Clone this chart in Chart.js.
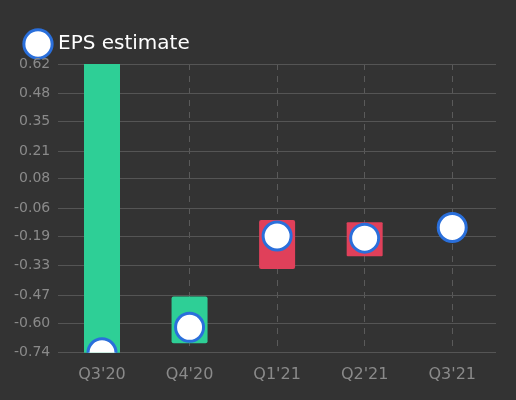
<!DOCTYPE html>
<html><head><meta charset="utf-8">
<script src="https://cdn.jsdelivr.net/npm/chart.js@4"></script>
<style>html,body{margin:0;background:#333333;}#w{width:516px;height:400px;}</style>
</head><body><div id="w"><canvas id="c"></canvas></div>
<script>
const categories = ["Q3'20","Q4'20","Q1'21","Q2'21","Q3'21"];
const estimates = [-0.74, -0.62, -0.19, -0.20, -0.15];
const actuals = [0.62, -0.55, -0.27, -0.21, null];
const yTicks = [0.62,0.48,0.35,0.21,0.08,-0.06,-0.19,-0.33,-0.47,-0.60,-0.74];

const bars = categories.map((c,i)=> actuals[i]==null ? null : [estimates[i], actuals[i]]);
const barColors = categories.map((c,i)=> actuals[i]!=null && actuals[i] >= estimates[i] ? '#2ecf96' : '#e0405a');

new Chart(document.getElementById('c'), {
  type:'bar',
  data: {
    labels: categories,
    datasets: [
      { type:'line', showLine:false, label:'EPS estimate', data: estimates, backgroundColor:'#ffffff', borderColor:'#2a6fdb',
        borderWidth:3, pointRadius:14, pointHoverRadius:14, order:0 },
      { type:'bar', label:'actual', data: bars, backgroundColor: barColors, barThickness:4, inflateAmount:16,
        borderRadius:18, borderSkipped:false, order:1 }
    ]
  },
  options: {
    responsive:true, maintainAspectRatio:false, animation:false,
    layout:{padding:{left:6,right:20,top:12,bottom:4}},
    plugins:{
      legend:{ align:'start', labels:{ filter:(it)=>it.text==='EPS estimate', usePointStyle:true, color:'#ffffff',
        boxHeight:28, font:{size:20, family:'DejaVu Sans'}, padding:22 } },
      tooltip:{enabled:false}
    },
    scales:{
      x:{ offset:true, grid:{ offset:false, color:'#5a5a5a', drawTicks:false }, border:{display:false, dash:[6,6]},
          ticks:{ color:'#8a8a8a', font:{size:16, family:'DejaVu Sans'}, padding:12 } },
      y:{ min:-0.74, max:0.62, afterBuildTicks:(ax)=>{ ax.ticks = yTicks.map(v=>({value:v})); },
          grid:{ color:'#555555', drawTicks:false }, border:{display:false},
          ticks:{ color:'#8a8a8a', font:{size:14, family:'DejaVu Sans'}, padding:8,
                  callback:(v)=>v.toFixed(2) } }
    }
  }
});
</script></body></html>
